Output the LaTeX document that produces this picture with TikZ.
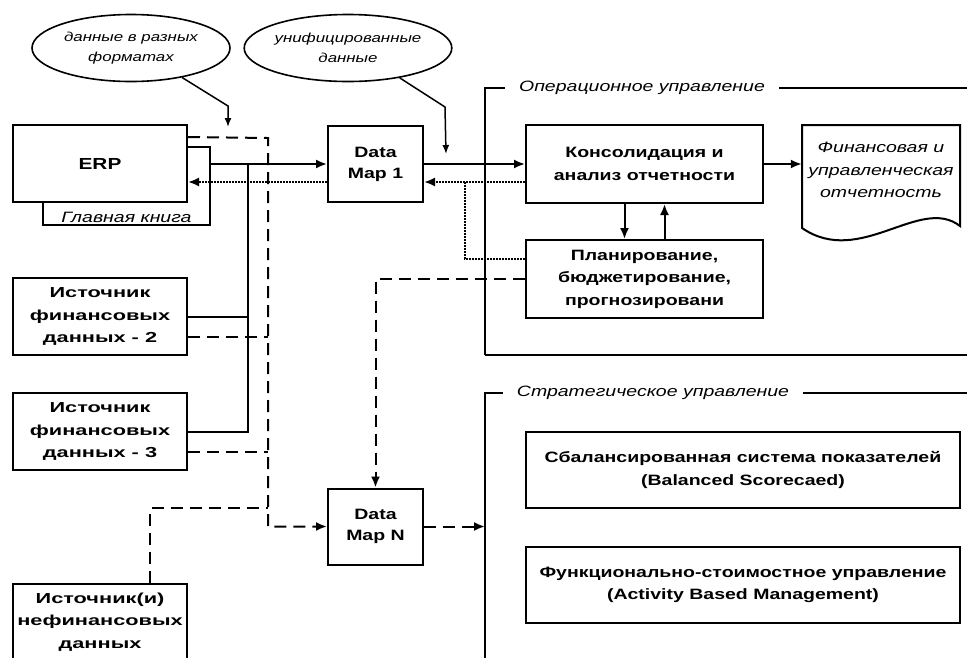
\documentclass[tikz,border=0pt]{standalone}
\usepackage{fontspec}
\setmainfont{Liberation Sans}[FakeStretch=1.3]
\newfontfamily\widefont{Liberation Sans}[FakeStretch=1.5]
\usetikzlibrary{shapes.geometric, arrows.meta, positioning}
\tikzstyle{wire} = [line width=2pt]
\tikzstyle{source} = [rectangle, draw, line width=2pt, minimum width=174pt, minimum height=77pt, inner xsep=1pt, text centered, fill=white, font=\widefont\bfseries\fontsize{14.5}{22.5}\selectfont]
\tikzstyle{datamap} = [rectangle, draw, line width=2pt, minimum width=95pt, minimum height=76pt, text centered, font=\bfseries\fontsize{15}{21}\selectfont]
\tikzstyle{task} = [rectangle, draw, line width=2pt, minimum width=237pt, minimum height=78pt, text centered, font=\bfseries\fontsize{15}{22.5}\selectfont]
\tikzstyle{wide} = [task, minimum width=434pt, minimum height=76pt]
\tikzstyle{note} = [ellipse, draw, line width=1.6pt, minimum width=198pt, minimum height=67pt, inner sep=0pt, font=\itshape\fontsize{13}{20}\selectfont]
\tikzstyle{doctext} = [minimum width=158pt, font=\itshape\fontsize{15}{22.5}\selectfont]
\tikzstyle{caption} = [fill=white, inner xsep=14pt, font=\itshape\fontsize{15}{16}\selectfont]
\tikzstyle{cable} = [wire, ->, >={Latex[length=11pt,width=9pt]}]
\tikzstyle{pointer} = [line width=1.5pt, ->, >={Latex[length=9pt,width=7pt]}]
\tikzstyle{dashline} = [wire, dash pattern=on 12pt off 7pt]
\tikzstyle{dashcable} = [dashline, ->, >={Latex[length=11pt,width=9pt]}]
\tikzstyle{dotline} = [wire, dash pattern=on 1.8pt off 1.2pt]
\tikzstyle{dotcable} = [dotline, ->, >={Latex[length=11pt,width=9pt]}]

\begin{document}
\begin{tikzpicture}[x=1pt, y=-1pt, align=center]
\useasboundingbox (0,0) rectangle (967,657);
%Notes
\node (fmt) [note] at (131,48) {данные в разных\\форматах};
\node (uni) [note] at (348,48) {унифицированные\\данные};
%Sources
\node (ledger) [source, minimum width=167pt, minimum height=78pt] at (126.5,186) {};
\node (ledgertxt) [font=\itshape\fontsize{15}{16}\selectfont, above=0pt of ledger.south] {Главная книга};
\node (erp) [source, font=\bfseries\fontsize{16}{20}\selectfont] at (100,163.5) {ERP};
\node (src2) [source] at (100,316.5) {Источник\\финансовых\\данных - 2};
\node (src3) [source] at (100,431.5) {Источник\\финансовых\\данных - 3};
\node (nonfin) [source] at (100,622) {Источник(и)\\нефинансовых\\данных};
%Data maps
\node (dm1) [datamap] at (375.5,164) {Data\\Map 1};
\node (dmN) [datamap] at (375.5,526.5) {Data\\Map N};
%Operational management
\draw [wire] (485,355) -- (485,88) -- (975,88);
\draw [wire] (485,355) -- (975,355);
\node (opcap) [caption] at (642,88) {Операционное управление};
\node (cons) [task] at (644.5,164) {Консолидация и\\анализ отчетности};
\node (plan) [task] at (644.5,279) {Планирование,\\бюджетирование,\\прогнозировани};
\draw [wire] (802,125) -- (960,125) -- (960,226) .. controls (920,195) and (860,268) .. (802,228) -- cycle;
\node (report) [doctext] at (881,170) {Финансовая и\\управленческая\\отчетность};
%Strategic management
\draw [wire] (485,665) -- (485,393) -- (975,393);
\node (stcap) [caption] at (653,393) {Стратегическое управление};
\node (bsc) [wide] at (743,470) {Сбалансированная система показателей\\(Balanced Scorecaed)};
\node (abm) [wide] at (743,585) {Функционально-стоимостное управление\\(Activity Based Management)};
%Junctions
\coordinate (sbus) at (248,164);
\coordinate (dbus) at (268,138);
\coordinate (nj) at (268,508);
\coordinate (dj) at (465,182);
\coordinate (stedge) at (485,526);
\coordinate (fmtbend) at (228,106);
\coordinate (fmttip) at (228,127);
\coordinate (unibend) at (445,107);
\coordinate (unitip) at (446,154);
%Connections
\draw [pointer] (fmt.-30) -- (fmtbend) -- (fmttip);
\draw [pointer] (uni.-30) -- (unibend) -- (unitip);
\draw [cable] (ledger.east |- dm1) -- (dm1);
\draw [wire] (sbus) -- (sbus |- src3) -- (src3);
\draw [wire] (src2) -- (src2 -| sbus);
\draw [dotcable] ([yshift=-18pt]dm1.west) -- ([yshift=-18pt]dm1.west -| erp.east);
\draw [dashcable] ([yshift=-13pt]erp.north east) -- (dbus) |- (dmN);
\draw [dashline] ([yshift=-20pt]src2.east) -- ([yshift=-20pt]src2.east -| dbus);
\draw [dashline] ([yshift=-20pt]src3.east) -- ([yshift=-20pt]src3.east -| dbus);
\draw [dashline] ([xshift=50pt]nonfin.north) |- (nj);
\draw [cable] (dm1) -- (cons);
\draw [dotcable] ([yshift=-18pt]cons.west) -- ([yshift=-18pt]dm1.east);
\draw [dotline] ([yshift=20pt]plan.west) -| (dj);
\draw [cable] (cons) -- (cons -| report.west);
\draw [cable] ([xshift=-20pt]cons.south) -- ([xshift=-20pt]plan.north);
\draw [cable] ([xshift=20pt]plan.north) -- ([xshift=20pt]cons.south);
\draw [dashcable] (plan.west) -| (dmN);
\draw [dashcable] (dmN) -- (dmN -| stedge);
\end{tikzpicture}
\end{document}
